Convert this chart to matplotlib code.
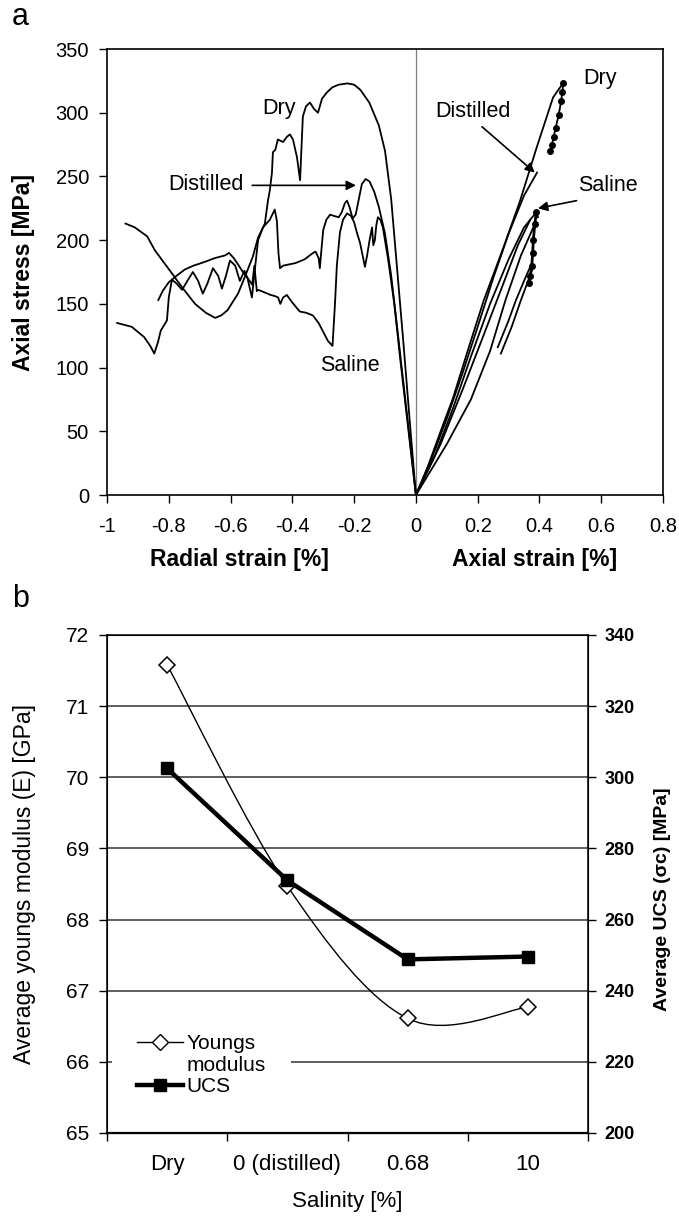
import matplotlib
matplotlib.use("Agg")
import matplotlib.pyplot as plt
from matplotlib.path import Path
from matplotlib.patches import PathPatch
from matplotlib.lines import Line2D

plt.rcParams['font.family'] = ['Liberation Sans', 'DejaVu Sans']

# ---- panel a: stress-strain curves (radial strain negative, axial positive)
dry_rad_x = [-0.94, -0.91, -0.87, -0.845, -0.79, -0.757, -0.715, -0.68, -0.65, -0.63, -0.61,
             -0.576, -0.554, -0.528, -0.511, -0.489, -0.479, -0.473, -0.466, -0.463, -0.455,
             -0.447, -0.43, -0.418, -0.408, -0.398, -0.385, -0.375, -0.37, -0.366, -0.356,
             -0.343, -0.33, -0.317, -0.304, -0.288, -0.27, -0.25, -0.222, -0.2, -0.18, -0.151,
             -0.12, -0.1, -0.08, -0.06, -0.04, -0.02, 0.0]
dry_rad_y = [213, 210, 203, 192, 174, 163, 150, 143, 139, 141, 145,
             158, 171, 187, 202, 213, 231, 239, 253, 269, 271,
             279, 277, 281, 283, 279, 265, 247, 275, 297, 305,
             308, 303, 300, 311, 316, 320, 322, 323, 322, 318, 308,
             290, 270, 232, 175, 118, 58, 0]

dist_rad_x = [-0.967, -0.92, -0.88, -0.86, -0.847, -0.835, -0.826, -0.806, -0.80, -0.79,
              -0.775, -0.757, -0.74, -0.722, -0.705, -0.69, -0.675, -0.657, -0.64, -0.628,
              -0.615, -0.602, -0.585, -0.57, -0.555, -0.545, -0.531, -0.52, -0.511, -0.495,
              -0.473, -0.457, -0.45, -0.445, -0.44, -0.43, -0.41, -0.39, -0.36, -0.333,
              -0.325, -0.315, -0.311, -0.305, -0.30, -0.29, -0.278, -0.265, -0.25, -0.24,
              -0.23, -0.223, -0.215, -0.205, -0.195, -0.185, -0.175, -0.163, -0.15, -0.135,
              -0.12, -0.1, -0.08, -0.06, -0.04, -0.02, 0.0]
dist_rad_y = [135, 132, 124, 117, 111, 120, 129, 137, 155, 169,
              166, 161, 168, 175, 168, 158, 166, 178, 172, 162,
              172, 184, 180, 168, 176, 170, 155, 180, 200, 210,
              216, 224, 215, 190, 178, 180, 181, 182, 185, 190,
              191, 186, 178, 195, 208, 216, 220, 219, 218, 222,
              229, 231, 226, 217, 220, 232, 244, 248, 246, 238,
              226, 205, 172, 130, 87, 44, 0]

sal_rad_x = [-0.834, -0.82, -0.80, -0.775, -0.748, -0.72, -0.683, -0.65, -0.618, -0.605,
             -0.59, -0.576, -0.56, -0.544, -0.53, -0.523, -0.515, -0.51, -0.49, -0.47,
             -0.455, -0.446, -0.439, -0.43, -0.418, -0.40, -0.376, -0.355, -0.334, -0.315,
             -0.30, -0.285, -0.27, -0.262, -0.256, -0.246, -0.236, -0.223, -0.21, -0.2,
             -0.19, -0.181, -0.17, -0.165, -0.158, -0.15, -0.142, -0.138, -0.133, -0.128,
             -0.123, -0.115, -0.107, -0.09, -0.07, -0.05, -0.03, 0.0]
sal_rad_y = [153, 160, 167, 172, 177, 180, 183, 186, 188, 190,
             186, 181, 175, 170, 165, 180, 160, 161, 159, 157,
             156, 155, 150, 155, 157, 151, 144, 143, 141, 135,
             128, 121, 117, 150, 180, 206, 216, 221, 219, 214,
             205, 198, 185, 179, 188, 200, 210, 196, 200, 212,
             218, 216, 210, 185, 150, 105, 63, 0]

dry_ax_x = [0.0, 0.038, 0.08, 0.12, 0.17, 0.22, 0.28, 0.336, 0.39, 0.444, 0.47, 0.477]
dry_ax_y = [0, 22, 50, 76, 115, 153, 192, 230, 272, 312, 321, 323]
dry_tail_x = [0.477, 0.474, 0.47, 0.462, 0.452, 0.446, 0.44, 0.435]
dry_tail_y = [323, 316, 309, 298, 288, 281, 275, 270]

dist_ax_x = [0.0, 0.05, 0.1, 0.15, 0.2, 0.25, 0.3, 0.35, 0.392]
dist_ax_y = [0, 28, 60, 95, 132, 170, 205, 235, 253]

sal_ax_x = [0.0, 0.06, 0.12, 0.18, 0.24, 0.3, 0.35, 0.39, 0.395]
sal_ax_y = [0, 30, 68, 110, 150, 185, 210, 222, 218]
sal_tail_x = [0.39, 0.385, 0.38, 0.378, 0.375, 0.37, 0.365]
sal_tail_y = [222, 213, 200, 190, 180, 172, 166]

ax_extra1_x = [0.0, 0.08, 0.15, 0.22, 0.28, 0.33, 0.37]
ax_extra1_y = [0, 40, 82, 126, 164, 196, 216]
ax_extra2_x = [0.0, 0.1, 0.178, 0.24, 0.29, 0.34, 0.38]
ax_extra2_y = [0, 40, 75, 113, 153, 188, 210]
short1_x = [0.265, 0.3, 0.324, 0.35, 0.368]
short1_y = [116, 137, 153, 168, 178]
short2_x = [0.275, 0.31, 0.34, 0.36, 0.375]
short2_y = [111, 132, 153, 166, 176]

a_xticks = [-1, -0.8, -0.6, -0.4, -0.2, 0, 0.2, 0.4, 0.6, 0.8]
a_xlabels = ['-1', '-0.8', '-0.6', '-0.4', '-0.2', '0', '0.2', '0.4', '0.6', '0.8']
a_yticks = [0, 50, 100, 150, 200, 250, 300, 350]

# ---- panel b: averages vs salinity
salinity = ['Dry', '0 (distilled)', '0.68', '10']
youngs = [71.58, 68.47, 66.61, 66.77]
ucs = [302.5, 271.0, 248.8, 249.6]

fig = plt.figure(figsize=(6.79, 12.16), dpi=100)

# =================== panel a
ax = fig.add_axes([0.1576, 0.5929, 0.8189, 0.3668])
ax.set_xlim(-1, 0.8)
ax.set_ylim(0, 350)
lw = 1.3
ax.axvline(0, color='#808080', lw=0.9, zorder=1)
ax.plot(dry_rad_x, dry_rad_y, color='k', lw=lw)
ax.plot(dist_rad_x, dist_rad_y, color='k', lw=lw)
ax.plot(sal_rad_x, sal_rad_y, color='k', lw=lw)
ax.plot(dry_ax_x, dry_ax_y, color='k', lw=lw)
ax.plot(dry_tail_x, dry_tail_y, color='k', lw=lw, marker='o', ms=4)
ax.plot(dist_ax_x, dist_ax_y, color='k', lw=lw)
ax.plot(sal_ax_x, sal_ax_y, color='k', lw=lw)
ax.plot(sal_tail_x, sal_tail_y, color='k', lw=2, marker='o', ms=4)
ax.plot(ax_extra1_x, ax_extra1_y, color='k', lw=lw)
ax.plot(ax_extra2_x, ax_extra2_y, color='k', lw=lw)
ax.plot(short1_x, short1_y, color='k', lw=lw)
ax.plot(short2_x, short2_y, color='k', lw=lw)

arrow = dict(arrowstyle='-|>', color='k', lw=1.2, mutation_scale=14, shrinkA=0, shrinkB=0)
fs_ann = 15.5
ax.text(-0.443, 303, 'Dry', fontsize=fs_ann, ha='center', va='center')
ax.text(-0.68, 244, 'Distilled', fontsize=fs_ann, ha='center', va='center')
ax.annotate('', xy=(-0.194, 243), xytext=(-0.53, 243), arrowprops=arrow)
ax.text(-0.214, 102, 'Saline', fontsize=fs_ann, ha='center', va='center')
ax.text(0.595, 327, 'Dry', fontsize=fs_ann, ha='center', va='center')
ax.text(0.185, 301, 'Distilled', fontsize=fs_ann, ha='center', va='center')
ax.annotate('', xy=(0.385, 253), xytext=(0.214, 289), arrowprops=arrow)
ax.text(0.62, 243, 'Saline', fontsize=fs_ann, ha='center', va='center')
ax.annotate('', xy=(0.395, 225), xytext=(0.52, 231), arrowprops=arrow)

ax.set_xticks(a_xticks)
ax.set_xticklabels(a_xlabels)
ax.set_yticks(a_yticks)
ax.tick_params(direction='out', length=6, width=1, labelsize=14.5)
ax.tick_params(axis='x', pad=10)
ax.tick_params(axis='y', pad=7)
for s in ax.spines.values():
    s.set_linewidth(1.2)
ax.set_ylabel('Axial stress [MPa]', fontsize=16.5, fontweight='bold')
ax.yaxis.set_label_coords(-0.13, 0.5)
ax.text(-0.57, -0.1435, 'Radial strain [%]', transform=ax.get_xaxis_transform(),
        fontsize=16.5, fontweight='bold', ha='center', va='center')
ax.text(0.385, -0.1435, 'Axial strain [%]', transform=ax.get_xaxis_transform(),
        fontsize=16.5, fontweight='bold', ha='center', va='center')
fig.text(0.018, 0.986, 'a', fontsize=22, ha='left', va='center')

# =================== panel b
bx = fig.add_axes([0.1576, 0.0683, 0.7084, 0.4095])
bx.set_xlim(0, 4)
bx.set_ylim(65, 72)
bx.set_yticks(range(65, 73))
for v in range(66, 72):
    bx.axhline(v, color='#333333', lw=1.1, zorder=0)
bx.set_xticks([0, 1, 2, 3, 4])
bx.set_xticklabels([])
xc = [i + 0.5 for i in range(len(salinity))]
bx.set_xticks(xc, minor=True)
bx.set_xticklabels(salinity, minor=True)
bx.tick_params(axis='x', which='minor', length=0, pad=15, labelsize=16)
bx.tick_params(axis='x', which='major', direction='out', length=6, width=1)
bx.tick_params(axis='y', direction='out', length=6, width=1, labelsize=15, pad=7)
for s in bx.spines.values():
    s.set_linewidth(1.1)
bx.spines['bottom'].set_linewidth(1.6)
bx.set_xlabel('Salinity [%]', fontsize=16)
bx.xaxis.set_label_coords(0.5, -0.117)
bx.set_ylabel('Average youngs modulus (E) [GPa]', fontsize=16.5)
bx.yaxis.set_label_coords(-0.148, 0.5)

# Excel-style smoothed line through the Young's modulus points
verts = [(xc[0], youngs[0])]
codes = [Path.MOVETO]
n = len(xc)
for i in range(n - 1):
    p0 = (xc[max(i - 1, 0)], youngs[max(i - 1, 0)])
    p1 = (xc[i], youngs[i])
    p2 = (xc[i + 1], youngs[i + 1])
    p3 = (xc[min(i + 2, n - 1)], youngs[min(i + 2, n - 1)])
    c1 = (p1[0] + (p2[0] - p0[0]) / 6, p1[1] + (p2[1] - p0[1]) / 6)
    c2 = (p2[0] - (p3[0] - p1[0]) / 6, p2[1] - (p3[1] - p1[1]) / 6)
    verts += [c1, c2, p2]
    codes += [Path.CURVE4] * 3
bx.add_patch(PathPatch(Path(verts, codes), facecolor='none', edgecolor='k', lw=1.0, zorder=2))
bx.plot(xc, youngs, ls='none', marker='D', ms=8, mfc='white', mec='k', mew=1.1, zorder=3)

tx = bx.twinx()
tx.set_ylim(200, 340)
tx.set_yticks(range(200, 341, 20))
tx.plot(xc, ucs, color='k', lw=3.2, marker='s', ms=8, zorder=4)
tx.tick_params(axis='y', direction='out', length=6, width=1, labelsize=13, pad=6)
for lab in tx.get_yticklabels():
    lab.set_fontweight('bold')
tx.set_ylabel('Average UCS (σc) [MPa]', fontsize=14, fontweight='bold')
tx.yaxis.set_label_coords(1.137, 0.47)

handles = [Line2D([], [], color='k', lw=1.0, marker='D', ms=8, mfc='white', mec='k'),
           Line2D([], [], color='none'),
           Line2D([], [], color='k', lw=3.2, marker='s', ms=8)]
leg = tx.legend(handles, ['Youngs', 'modulus', 'UCS'], loc='lower left',
                bbox_to_anchor=(0.062, 0.074), fontsize=15, frameon=True,
                handlelength=2.2, handletextpad=0.2, labelspacing=0.12,
                borderpad=0.0, borderaxespad=0)
leg.get_frame().set_edgecolor('none')
leg.get_frame().set_facecolor('white')
leg.get_frame().set_alpha(1)
leg.get_frame().set_boxstyle('square', pad=1.2)
fig.text(0.018, 0.507, 'b', fontsize=22, ha='left', va='center')

fig.savefig('out.png', dpi=100)
